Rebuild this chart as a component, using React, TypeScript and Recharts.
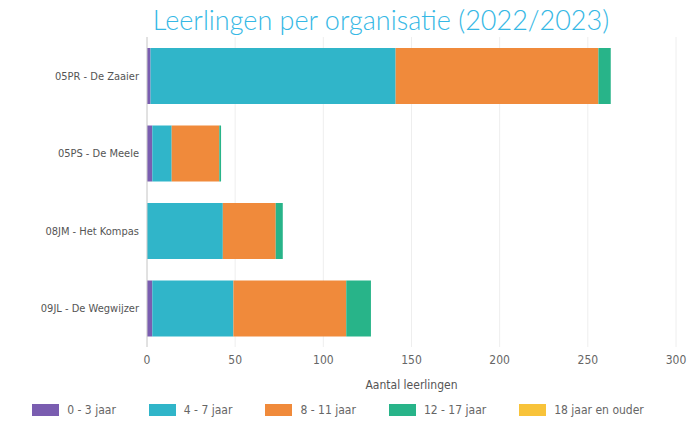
import React from 'react';
import { BarChart, Bar, XAxis, YAxis, CartesianGrid, Legend } from 'recharts';

const organisaties = ['05PR - De Zaaier', '05PS - De Meele', '08JM - Het Kompas', '09JL - De Wegwijzer'];
const jaar0tot3 = [2, 3, 0, 3];
const jaar4tot7 = [139, 11, 43, 46];
const jaar8tot11 = [115, 27, 30, 64];
const jaar12tot17 = [7, 1, 4, 14];
const jaar18plus = [0, 0, 0, 0];
const xTicks = [0, 50, 100, 150, 200, 250, 300];

const SERIES = [
  { key: 'a', name: '0 - 3 jaar', color: '#7a5db0', values: jaar0tot3 },
  { key: 'b', name: '4 - 7 jaar', color: '#30b5c9', values: jaar4tot7 },
  { key: 'c', name: '8 - 11 jaar', color: '#f08a3b', values: jaar8tot11 },
  { key: 'd', name: '12 - 17 jaar', color: '#28b489', values: jaar12tot17 },
  { key: 'e', name: '18 jaar en ouder', color: '#f8c33a', values: jaar18plus },
];

const data = organisaties.map((name, i) => {
  const row: any = { name };
  SERIES.forEach(s => { row[s.key] = s.values[i]; });
  return row;
});

const FONT = '"DejaVu Sans Condensed", "Open Sans", sans-serif';

const renderLegend = () => (
  <div style={{ display: 'flex', justifyContent: 'center', alignItems: 'center', fontFamily: FONT, fontSize: 12, color: '#666' }}>
    {SERIES.map((s, i) => (
      <div key={s.key} style={{ display: 'flex', alignItems: 'center', marginRight: i < SERIES.length - 1 ? 33 : 0 }}>
        <span style={{ display: 'inline-block', width: 27, height: 12, background: s.color, marginRight: 8 }} />
        <span>{s.name}</span>
      </div>
    ))}
  </div>
);

export default function App() {
  return (
    <div style={{ position: 'absolute', left: 0, top: 0, width: 688, height: 421, background: '#fff' }}>
      <div style={{ position: 'absolute', top: 3, left: 0, width: 762, textAlign: 'center', fontFamily: 'Lato, sans-serif', fontWeight: 300, fontSize: 27, color: '#36b8e5' }}>
        Leerlingen per organisatie (2022/2023)
      </div>
      <BarChart
        layout="vertical"
        width={688}
        height={421}
        data={data}
        margin={{ top: 37, right: 12, left: 0, bottom: 0 }}
        barCategoryGap={20}
      >
        <CartesianGrid horizontal={false} stroke="#eeeeee" />
        <XAxis
          type="number"
          domain={[0, 300]}
          ticks={xTicks}
          axisLine={false}
          tickLine={false}
          tick={{ fontFamily: FONT, fontSize: 12, fill: '#666' }}
          height={56}
          label={{ value: 'Aantal leerlingen', position: 'insideBottom', offset: 14, fontFamily: FONT, fontSize: 12, fill: '#555' }}
        />
        <YAxis
          type="category"
          dataKey="name"
          width={147}
          axisLine={{ stroke: '#cccccc' }}
          tickLine={false}
          tick={{ fontFamily: FONT, fontSize: 11, fill: '#555' }}
        />
        <Legend verticalAlign="bottom" height={18} content={renderLegend} />
        {SERIES.map(s => (
          <Bar key={s.key} dataKey={s.key} name={s.name} stackId="x" fill={s.color} barSize={56} isAnimationActive={false} />
        ))}
      </BarChart>
    </div>
  );
}
